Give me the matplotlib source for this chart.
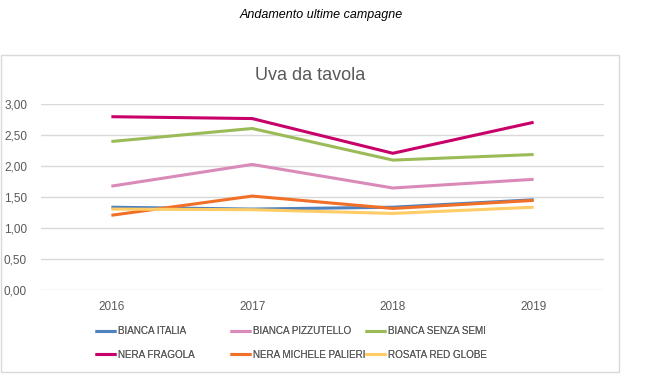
import matplotlib.pyplot as plt
from matplotlib.patches import Rectangle
from matplotlib.ticker import FuncFormatter

# Data
years = ['2016', '2017', '2018', '2019']
bianca_italia = [1.34, 1.31, 1.34, 1.46]
bianca_pizzutello = [1.68, 2.03, 1.65, 1.79]
bianca_senza_semi = [2.40, 2.61, 2.10, 2.19]
nera_fragola = [2.80, 2.77, 2.21, 2.71]
nera_michele_palieri = [1.21, 1.52, 1.32, 1.45]
rosata_red_globe = [1.31, 1.30, 1.24, 1.34]

series = [
    ('BIANCA ITALIA', bianca_italia, '#4F81BD'),
    ('BIANCA PIZZUTELLO', bianca_pizzutello, '#DA8AB8'),
    ('BIANCA SENZA SEMI', bianca_senza_semi, '#9BBB59'),
    ('NERA FRAGOLA', nera_fragola, '#C8006A'),
    ('NERA MICHELE PALIERI', nera_michele_palieri, '#F07028'),
    ('ROSATA RED GLOBE', rosata_red_globe, '#FFCC66'),
]

plt.rcParams['font.family'] = ['Liberation Sans', 'DejaVu Sans']

W, H = 646, 386
fig = plt.figure(figsize=(W / 100, H / 100), dpi=100)

# chart area border
fig.patches.append(Rectangle((1 / W, 1 - 372 / H), 618 / W, 317 / H,
                             transform=fig.transFigure, fill=False,
                             edgecolor='#D9D9D9', linewidth=1))

fig.text(321 / W, 1 - 15 / H, 'Andamento ultime campagne', ha='center', va='center',
         fontsize=9, style='italic', color='#000000')
fig.text(310 / W, 1 - 76 / H, 'Uva da tavola', ha='center', va='center',
         fontsize=13, color='#595959')

ax = fig.add_axes([41 / W, 1 - 290.3 / H, 563 / W, 186 / H])
x = range(len(years))
lines = []
for name, vals, col in series:
    ln, = ax.plot(x, vals, color=col, linewidth=2.2, label=name, solid_capstyle='butt')
    lines.append(ln)

ax.set_xlim(-0.5, len(years) - 0.5)
ax.set_ylim(0, 3)
ax.set_yticks([0, 0.5, 1, 1.5, 2, 2.5, 3])
ax.yaxis.set_major_formatter(FuncFormatter(lambda v, p: f'{v:.2f}'.replace('.', ',')))
ax.set_xticks(list(x))
ax.set_xticklabels(years)
ax.grid(axis='y', color='#D9D9D9', linewidth=1)
ax.set_axisbelow(True)
for s in ax.spines.values():
    s.set_visible(False)
ax.tick_params(length=0, labelsize=8.5, labelcolor='#595959')
ax.tick_params(axis='x', pad=8)
ax.tick_params(axis='y', pad=10)

# legend: three equally spaced columns, filled row by row
col_left = [95, 230, 365]
for c in range(3):
    hs = [lines[c], lines[c + 3]]
    leg = fig.legend(hs, [h.get_label() for h in hs], loc='upper left',
                     bbox_to_anchor=(col_left[c] / W, 1 - 326.5 / H),
                     frameon=False, labelcolor='#595959', fontsize=7.1,
                     handlelength=2.1, handletextpad=0.2, labelspacing=1.35,
                     borderpad=0, borderaxespad=0)
    fig.add_artist(leg)

fig.savefig('out.png', dpi=100, facecolor='white')
